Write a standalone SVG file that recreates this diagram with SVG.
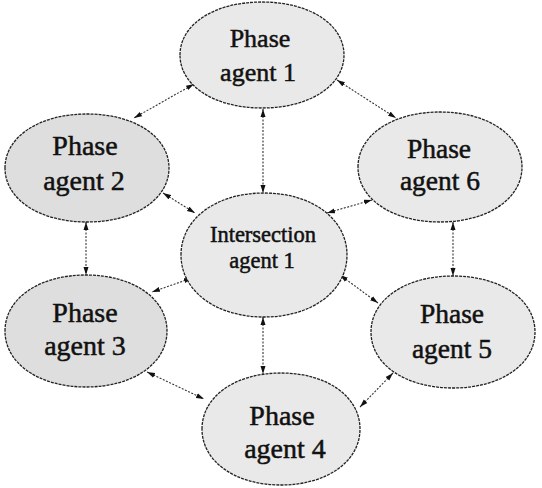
<svg xmlns="http://www.w3.org/2000/svg" width="542" height="488" viewBox="0 0 542 488">
<style>
.node{fill:#e9e9e9;stroke:#222;stroke-width:1.3;stroke-dasharray:3 1}
.dark{fill:#dedede}
.lbl{font-family:"Liberation Serif","Times New Roman",serif;fill:#111;stroke:#111;stroke-width:0.5;text-anchor:middle}
.conn line{stroke:#333;stroke-width:1.1;stroke-dasharray:2 1.5;marker-start:url(#ah);marker-end:url(#ah)}
</style>
<defs>
<marker id="ah" markerUnits="userSpaceOnUse" markerWidth="8" markerHeight="6" refX="8" refY="3" orient="auto-start-reverse">
<path d="M0,0.5 L8,3 L0,5.5 z" fill="#111"/>
</marker>
</defs>
<rect width="542" height="488" fill="#fff"/>
<g id="connectors" class="conn">
<line x1="194" y1="84" x2="134" y2="118"/>
<line x1="337" y1="80" x2="396" y2="118"/>
<line x1="263" y1="109" x2="263" y2="193"/>
<line x1="163" y1="193" x2="195" y2="213"/>
<line x1="327" y1="213" x2="372" y2="200"/>
<line x1="86" y1="222" x2="86" y2="275"/>
<line x1="192" y1="278" x2="152" y2="292"/>
<line x1="340" y1="275" x2="378" y2="303"/>
<line x1="453" y1="222" x2="453" y2="276"/>
<line x1="263" y1="317" x2="263" y2="374"/>
<line x1="147" y1="372" x2="204" y2="399"/>
<line x1="393" y1="373" x2="360" y2="407"/>
</g>
<g id="phase1">
<path class="node" d="M180,55 C180,24.3 214.4,2 262,2 C309.6,2 344,24.3 344,55 C344,85.7 309.6,108 262,108 C214.4,108 180,85.7 180,55 Z"/>
<text class="lbl" x="260" y="47" font-size="26">Phase</text>
<text class="lbl" x="258" y="81" font-size="26">agent 1</text>
</g>
<g id="phase2">
<path class="node dark" d="M5,168 C5,136.7 39.4,114 87,114 C134.6,114 169,136.7 169,168 C169,199.3 134.6,222 87,222 C39.4,222 5,199.3 5,168 Z"/>
<text class="lbl" x="85" y="155" font-size="28">Phase</text>
<text class="lbl" x="84" y="190" font-size="28">agent 2</text>
</g>
<g id="intersection1">
<path class="node" d="M181,255 C181,219 215.9,193 264,193 C312.1,193 347,219 347,255 C347,291 312.1,317 264,317 C215.9,317 181,291 181,255 Z"/>
<text class="lbl" x="263" y="242" font-size="22.5">Intersection</text>
<text class="lbl" x="262" y="268" font-size="22.5">agent 1</text>
</g>
<g id="phase3">
<path class="node dark" d="M5,331 C5,298.5 39,275 86,275 C133,275 167,298.5 167,331 C167,363.5 133,387 86,387 C39,387 5,363.5 5,331 Z"/>
<text class="lbl" x="85" y="322" font-size="28">Phase</text>
<text class="lbl" x="85" y="355" font-size="28">agent 3</text>
</g>
<g id="phase4">
<path class="node" d="M202,429 C202,396.5 235.2,373 281,373 C326.8,373 360,396.5 360,429 C360,461.5 326.8,485 281,485 C235.2,485 202,461.5 202,429 Z"/>
<text class="lbl" x="282" y="425" font-size="28">Phase</text>
<text class="lbl" x="285" y="458" font-size="28">agent 4</text>
</g>
<g id="phase5">
<path class="node" d="M371,332 C371,299.5 405.4,276 453,276 C500.6,276 535,299.5 535,332 C535,364.5 500.6,388 453,388 C405.4,388 371,364.5 371,332 Z"/>
<text class="lbl" x="452" y="323" font-size="27.5">Phase</text>
<text class="lbl" x="452" y="358" font-size="27.5">agent 5</text>
</g>
<g id="phase6">
<path class="node" d="M358,167 C358,135.1 392.4,112 440,112 C487.6,112 522,135.1 522,167 C522,198.9 487.6,222 440,222 C392.4,222 358,198.9 358,167 Z"/>
<text class="lbl" x="439" y="158" font-size="27.5">Phase</text>
<text class="lbl" x="440" y="190" font-size="27.5">agent 6</text>
</g>
</svg>
